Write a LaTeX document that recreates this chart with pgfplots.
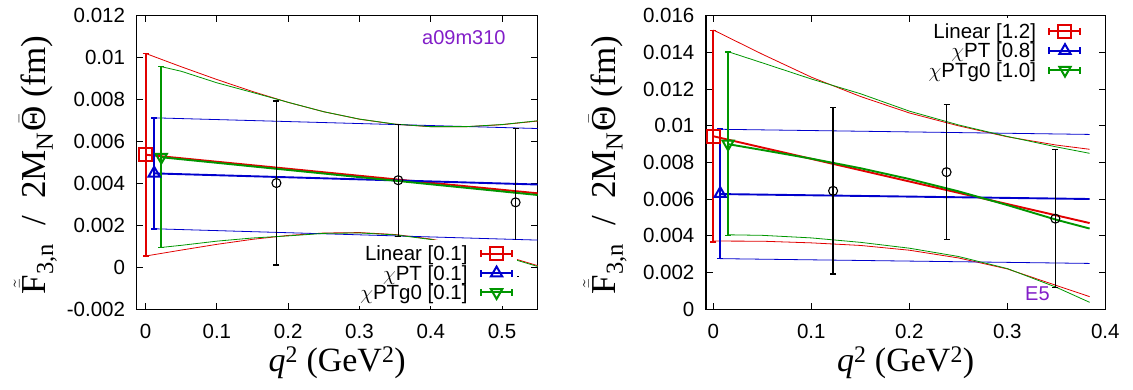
\documentclass[border=0pt]{standalone}
\usepackage{amsmath}
\usepackage{fontspec}
\setmainfont{Liberation Sans}
\newfontfamily\serif{Liberation Serif}
\usepackage{pgfplots}
\pgfplotsset{compat=1.18}
\definecolor{cred}{RGB}{225,0,0}
\definecolor{cblue}{RGB}{0,0,205}
\definecolor{cgreen}{RGB}{0,150,0}
\definecolor{cpurp}{RGB}{130,30,200}
\pgfplotsset{
  panel/.style={
    scale only axis, height=293.6pt, anchor=south west,
    axis line style={line width=1.1pt},
    tick align=inside, major tick length=6.5pt,
    every tick/.style={black, line width=0.9pt},
    scaled ticks=false,
    ticklabel style={font=\fontsize{20.5}{20.5}\selectfont},
    yticklabel style={inner sep=0pt, xshift=-11.5pt},
    xticklabel style={inner sep=0pt, yshift=-15pt},
    xlabel style={font=\serif\fontsize{34}{34}\selectfont, at={(axis description cs:0.5,-0.2125)}, anchor=base},
    ylabel style={font=\serif\fontsize{35}{35}\selectfont, at={(axis description cs:-0.2275,0.492)}, anchor=base},
    xlabel={{\itshape q}\textsuperscript{2} (GeV\textsuperscript{2})},
    ylabel={$\tilde{\bar{\text{F}}}_{\text{3,n}}$\ \ /\ \ 2M$_{\text{N}}\bar{\text{Θ}}$ (fm)},
    legend cell align=right,
    legend plot pos=right,
    legend style={draw=none, fill=white, anchor=east, inner sep=4pt,
      column sep=12.5pt, row sep=0pt, font=\fontsize{20.5}{20.5}\selectfont,
      nodes={inner sep=0pt, text height=17pt, text depth=2.4pt}},
  },
  band/.style={line width=0.8pt, forget plot},
  cent/.style={line width=1.9pt, forget plot},
  fitpt/.style={line width=2pt, mark size=6.5pt,
    error bars/y dir=both, error bars/y explicit,
    error bars/error bar style={line width=2pt},
    error bars/error mark options={rotate=90, mark size=3pt, line width=1.5pt}},
  datapt/.style={black, only marks, mark=o, mark size=4.5pt, forget plot,
    mark options={line width=1.1pt},
    error bars/y dir=both, error bars/y explicit,
    error bars/error bar style={line width=1.2pt},
    error bars/error mark options={rotate=90, mark size=3pt, line width=1.2pt}},
}
\begin{document}
\begin{tikzpicture}
% ---------------- left panel ----------------
\begin{axis}[panel, at={(136.7pt,80.7pt)}, width=401pt,
  xmin=-0.0125, xmax=0.55, ymin=-0.002, ymax=0.012,
  xtick={0,0.1,0.2,0.3,0.4,0.5}, xticklabels={0,0.1,0.2,0.3,0.4,0.5},
  ytick={-0.002,0,0.002,0.004,0.006,0.008,0.01,0.012},
  yticklabels={-0.002,0,0.002,0.004,0.006,0.008,0.01,0.012},
  legend style={at={(0.9491,0.1233)}},
  legend image code/.code={
    \draw[#1, mark=none] (0pt,0pt) -- (31pt,0pt) (0pt,-3.5pt) -- (0pt,3.5pt) (31pt,-3.5pt) -- (31pt,3.5pt);
    \draw[#1] plot coordinates {(15.5pt,0pt)};
  }]
% Linear
\addplot[cred, band] coordinates {(0,0.01020)(0.05,0.009565)(0.1,0.008956)(0.15,0.008385)(0.2,0.007866)(0.25,0.007419)(0.3,0.007064)(0.35,0.006824)(0.4,0.006706)(0.45,0.006706)(0.5,0.006803)(0.55,0.006977)};
\addplot[cred, band] coordinates {(0,0.00054)(0.05,0.000823)(0.1,0.001098)(0.15,0.001337)(0.2,0.001522)(0.25,0.001637)(0.3,0.001658)(0.35,0.001566)(0.4,0.001350)(0.45,0.001018)(0.5,0.000587)(0.55,0.000081)};
\addplot[cred, cent] coordinates {(0,0.00537)(0.55,0.00353)};
% chiPT
\addplot[cblue, band] coordinates {(0.012,0.00713)(0.55,0.00662)};
\addplot[cblue, band] coordinates {(0.012,0.00184)(0.55,0.00130)};
\addplot[cblue, cent] coordinates {(0.012,0.00448)(0.55,0.00395)};
% chiPTg0
\addplot[cgreen, band] coordinates {(0.022,0.00957)(0.05,0.00935)(0.1,0.00880)(0.15,0.00834)(0.2,0.00787)(0.25,0.00742)(0.3,0.00707)(0.35,0.00683)(0.4,0.00671)(0.45,0.00671)(0.5,0.00681)(0.55,0.00699)};
\addplot[cgreen, band] coordinates {(0.022,0.00095)(0.05,0.00105)(0.1,0.00125)(0.15,0.00140)(0.2,0.00150)(0.25,0.00162)(0.3,0.00164)(0.35,0.00155)(0.4,0.00133)(0.45,0.00099)(0.5,0.00055)(0.55,0.00004)};
\addplot[cgreen, cent] coordinates {(0.022,0.00525)(0.55,0.00345)};
% lattice data
\addplot[datapt] coordinates {(0.1835,0.00402) +- (0,0.00391) (0.3543,0.004155) +- (0,0.002665) (0.519,0.0031) +- (0,0.00353)};
% extrapolated points
\addplot[cred, fitpt, mark=square] coordinates {(0,0.00537) +- (0,0.00483)};
\addlegendentry{Linear [0.1]}
\addplot[cblue, fitpt, mark=triangle] coordinates {(0.012,0.004485) +- (0,0.002645)};
\addlegendentry{$\chi$PT [0.1]}
\addplot[cgreen, fitpt, mark=triangle, mark options={rotate=180}] coordinates {(0.022,0.00526) +- (0,0.00431)};
\addlegendentry{$\chi$PTg0 [0.1]}
\node[text=cpurp, font=\fontsize{20}{20}\selectfont] at (rel axis cs:0.816,0.927) {a09m310};
\end{axis}
% ---------------- right panel ----------------
\begin{axis}[panel, at={(706pt,80.7pt)}, width=399.3pt,
  xmin=-0.0075, xmax=0.4, ymin=0, ymax=0.016,
  xtick={0,0.1,0.2,0.3,0.4}, xticklabels={0,0.1,0.2,0.3,0.4},
  ytick={0,0.002,0.004,0.006,0.008,0.01,0.012,0.014,0.016},
  yticklabels={0,0.002,0.004,0.006,0.008,0.01,0.012,0.014,0.016},
  legend style={at={(0.9509,0.8808)}},
  legend image code/.code={
    \draw[#1, mark=none] (0pt,0pt) -- (31pt,0pt) (0pt,-3.5pt) -- (0pt,3.5pt) (31pt,-3.5pt) -- (31pt,3.5pt);
    \draw[#1] plot coordinates {(15.5pt,0pt)};
  }]
% Linear
\addplot[cred, band] coordinates {(0,0.01522)(0.05,0.01390)(0.1,0.01265)(0.15,0.01160)(0.2,0.01070)(0.25,0.01000)(0.3,0.00940)(0.35,0.00895)(0.384,0.00872)};
\addplot[cred, band] coordinates {(0,0.00372)(0.05,0.00371)(0.1,0.00362)(0.15,0.00348)(0.2,0.00322)(0.25,0.00280)(0.3,0.00220)(0.35,0.00130)(0.384,0.00069)};
\addplot[cred, cent] coordinates {(0,0.00943)(0.384,0.00470)};
% chiPT
\addplot[cblue, band] coordinates {(0.007,0.00981)(0.384,0.00953)};
\addplot[cblue, band] coordinates {(0.007,0.00276)(0.384,0.00250)};
\addplot[cblue, cent] coordinates {(0.007,0.00628)(0.384,0.00601)};
% chiPTg0
\addplot[cgreen, band] coordinates {(0.015,0.01404)(0.05,0.01343)(0.1,0.01255)(0.15,0.01175)(0.2,0.01080)(0.25,0.01005)(0.3,0.00942)(0.35,0.00885)(0.384,0.00850)};
\addplot[cgreen, band] coordinates {(0.015,0.00406)(0.05,0.00403)(0.1,0.00389)(0.15,0.00365)(0.2,0.00333)(0.25,0.00288)(0.3,0.00222)(0.35,0.00120)(0.384,0.00038)};
\addplot[cgreen, cent] coordinates {(0.015,0.00900)(0.05,0.00868)(0.1,0.00821)(0.15,0.00769)(0.2,0.00710)(0.25,0.00643)(0.3,0.00568)(0.35,0.00488)(0.384,0.00440)};
% lattice data
\addplot[datapt] coordinates {(0.1222,0.006455) +- (0,0.004535) (0.238,0.007475) +- (0,0.003675) (0.349,0.00494) +- (0,0.00377)};
% extrapolated points
\addplot[cred, fitpt, mark=square] coordinates {(0,0.00943) +- (0,0.00576)};
\addlegendentry{Linear [1.2]}
\addplot[cblue, fitpt, mark=triangle] coordinates {(0.007,0.0063) +- (0,0.00352)};
\addlegendentry{$\chi$PT [0.8]}
\addplot[cgreen, fitpt, mark=triangle, mark options={rotate=180}] coordinates {(0.015,0.00902) +- (0,0.00500)};
\addlegendentry{$\chi$PTg0 [1.0]}
\node[text=cpurp, font=\fontsize{20}{20}\selectfont] at (rel axis cs:0.830,0.0545) {E5};
\end{axis}
\pgfresetboundingbox
\path[use as bounding box] (0,0) rectangle (1133pt,390pt);
\end{tikzpicture}
\end{document}
